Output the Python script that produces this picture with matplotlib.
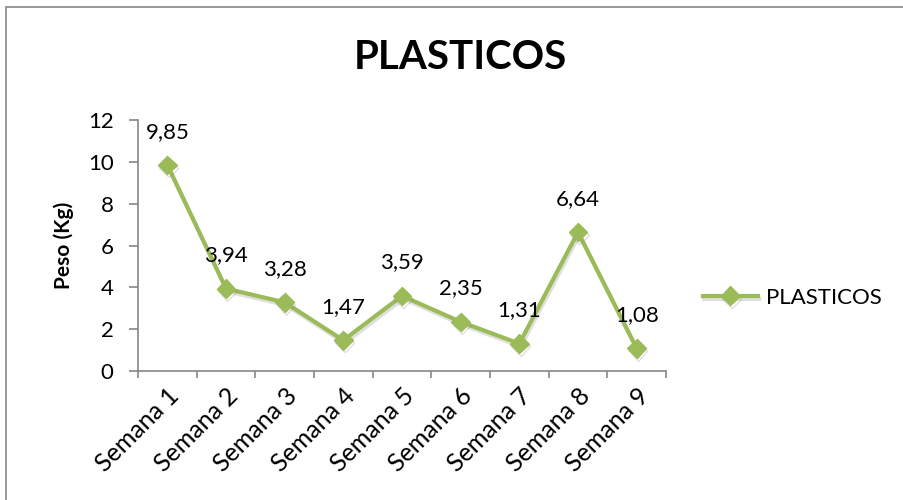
import matplotlib
matplotlib.use('Agg')
import matplotlib.pyplot as plt
import matplotlib.patheffects as pe
from matplotlib.patches import Rectangle

semanas = ['Semana 1', 'Semana 2', 'Semana 3', 'Semana 4', 'Semana 5',
           'Semana 6', 'Semana 7', 'Semana 8', 'Semana 9']
peso = [9.85, 3.94, 3.28, 1.47, 3.59, 2.35, 1.31, 6.64, 1.08]
etiquetas = ['9,85', '3,94', '3,28', '1,47', '3,59', '2,35', '1,31', '6,64', '1,08']

plt.rcParams['font.family'] = ['Lato', 'DejaVu Sans']
verde = '#9BBB59'
gris = '#868686'

fig = plt.figure(figsize=(9.04, 5), dpi=100)
fig.patches.append(Rectangle((6 / 904, -0.1), 1.2, 1.1 - 7 / 500, transform=fig.transFigure,
                             fill=False, edgecolor=gris, linewidth=1.2))
ax = fig.add_axes([138 / 904, 129 / 500, 528 / 904, 251 / 500])

x = [i + 0.5 for i in range(len(peso))]
sombra = [pe.SimpleLineShadow(offset=(1, -2), shadow_color='gray', alpha=0.25), pe.Normal()]
ax.plot(x, peso, color=verde, linewidth=3, marker='D', markersize=9.5,
        label='PLASTICOS', path_effects=sombra)

for xi, yi, txt in zip(x, peso, etiquetas):
    ax.annotate(txt, (xi, yi), xytext=(0, 24), textcoords='offset points',
                ha='center', va='center', fontsize=16)

ax.set_xlim(0, 9)
ax.set_ylim(0, 12)
ax.set_yticks(range(0, 13, 2))
ax.set_xticks(range(0, 10))
ax.set_xticklabels([])
ax.set_xticks(x, minor=True)
ax.set_xticklabels(semanas, minor=True, rotation=45, ha='right', rotation_mode='anchor', fontsize=18)
ax.tick_params(axis='x', which='minor', length=0, pad=9)
ax.tick_params(axis='x', which='major', length=5, direction='out', color=gris, width=1.2)
ax.tick_params(axis='y', length=6.5, direction='out', color=gris, width=1.2, labelsize=16, pad=11)

for s in ['top', 'right']:
    ax.spines[s].set_visible(False)
for s in ['left', 'bottom']:
    ax.spines[s].set_color(gris)
    ax.spines[s].set_linewidth(1.2)

ax.set_ylabel('Peso (Kg)', fontsize=15, fontweight='bold', labelpad=10)
fig.text(0.509, 0.885, 'PLASTICOS', ha='center', va='center', fontsize=29, fontweight='bold')

fig.legend(loc='center left', bbox_to_anchor=(0.755, 0.405), frameon=False, fontsize=16,
           handlelength=2.5, handletextpad=0.35)

fig.savefig('out.png', dpi=100)
